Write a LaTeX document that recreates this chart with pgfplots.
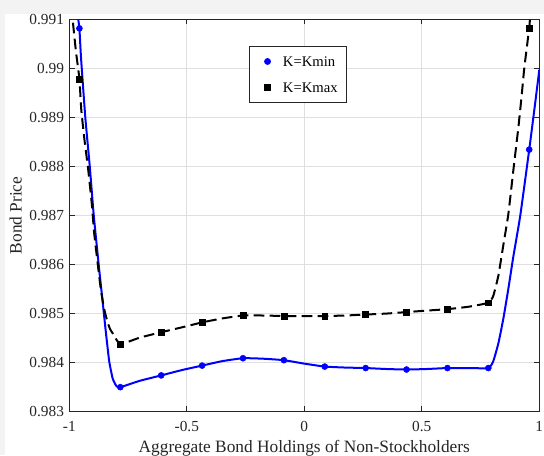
\documentclass[border=0pt]{standalone}
\usepackage{fontspec}
\setmainfont{Liberation Serif}
\usepackage{pgfplots}
\pgfplotsset{compat=1.18}
\definecolor{axgray}{RGB}{38,38,38}
\definecolor{gridgray}{RGB}{223,223,223}
\definecolor{bgstrip}{RGB}{243,243,243}
\definecolor{mblue}{RGB}{0,0,255}

\begin{document}
\fontsize{11.5}{13.8}\selectfont
\begin{tikzpicture}
\fill[bgstrip] (-51.98pt,-32.48pt) rectangle (356pt,308.78pt);
\fill[white] (-48.23pt,-32.48pt) rectangle (356pt,298.28pt);
\useasboundingbox (-51.98pt,-32.48pt) rectangle (356pt,308.78pt);
\begin{axis}[
  at={(0,0)}, anchor=south west,
  scale only axis, width=352.5pt, height=294.5pt,
  xmin=-1, xmax=1, ymin=0.983, ymax=0.991,
  xtick={-1,-0.5,0,0.5,1},
  ytick={0.983,0.984,0.985,0.986,0.987,0.988,0.989,0.990,0.991},
  /pgf/number format/assume math mode=true,
  yticklabel style={/pgf/number format/precision=3},
  xticklabel style={yshift=-3.5pt},
  tick label style={text=axgray, font=\fontsize{11.5}{13.8}\selectfont},
  axis line style={axgray, line width=0.6pt},
  tick style={axgray, line width=0.6pt},
  major tick length=4pt,
  tick align=inside,
  xtick pos=both, ytick pos=both,
  grid=major,
  major grid style={gridgray, line width=0.6pt},
  xlabel={Aggregate Bond Holdings of Non-Stockholders},
  ylabel={Bond Price},
  label style={font=\fontsize{13}{15.6}\selectfont, text=axgray},
  x label style={at={(axis description cs:0.5,-0.1026)}, anchor=base},
  y label style={at={(axis description cs:-0.1013,0.5)}, anchor=base},
  legend style={at={(0.3823,0.9313)}, anchor=north west, draw=axgray,
    line width=0.6pt, fill=white, inner xsep=6.75pt, inner ysep=7pt,
    row sep=10.75pt, text=black,
    font=\fontsize{11}{13.2}\selectfont,
    nodes={inner sep=0pt, text height=7.3pt, text depth=0pt}},
  legend cell align=left,
  legend image code/.code={%
    \path (-6.55pt,-4pt) (11.25pt,4pt);
    \draw[#1] plot coordinates {(0pt,0pt)};},
]
% K = Kmin, interpolated price curve
\addplot[mblue, line width=1.5pt, smooth, tension=0.3, forget plot] coordinates {
  (-0.967,0.99150) (-0.962,0.99100) (-0.957,0.99081) (-0.950,0.99020)
  (-0.932,0.98900) (-0.913,0.98800) (-0.896,0.98700) (-0.874,0.98595)
  (-0.859,0.98528) (-0.844,0.98460) (-0.830,0.98402) (-0.815,0.98367)
  (-0.799,0.98352) (-0.783,0.98350) (-0.700,0.98363) (-0.609,0.98374)
  (-0.520,0.98385) (-0.435,0.98394) (-0.350,0.98403) (-0.261,0.98409)
  (-0.174,0.98408) (-0.087,0.98405) (0.000,0.98398) (0.087,0.98392)
  (0.174,0.98390) (0.261,0.98389) (0.350,0.98387) (0.435,0.98386)
  (0.520,0.98387) (0.609,0.98389) (0.700,0.98389) (0.783,0.98389)
  (0.804,0.98403) (0.826,0.98440) (0.847,0.98490) (0.868,0.98550)
  (0.889,0.98615) (0.919,0.98700) (0.957,0.98834) (0.980,0.98920)
  (1.000,0.98997)
};
% K = Kmax, interpolated price curve
\addplot[black, line width=1.5pt, dash pattern=on 8pt off 4pt, smooth, tension=0.3, forget plot] coordinates {
  (-0.990,0.99125) (-0.986,0.99100) (-0.972,0.99035) (-0.957,0.98978)
  (-0.949,0.98915) (-0.935,0.98852) (-0.920,0.98795) (-0.904,0.98722)
  (-0.894,0.98663) (-0.880,0.98605) (-0.866,0.98550) (-0.852,0.98510)
  (-0.837,0.98482) (-0.826,0.98468) (-0.813,0.98458) (-0.783,0.98438)
  (-0.700,0.98451) (-0.609,0.98462) (-0.520,0.98472) (-0.435,0.98482)
  (-0.350,0.98490) (-0.261,0.98496) (-0.174,0.98496) (-0.087,0.98495)
  (0.000,0.98495) (0.087,0.98495) (0.174,0.98496) (0.261,0.98498)
  (0.350,0.98500) (0.435,0.98503) (0.520,0.98506) (0.609,0.98509)
  (0.700,0.98514) (0.783,0.98522) (0.804,0.98536) (0.826,0.98578)
  (0.847,0.98640) (0.868,0.98702) (0.889,0.98790) (0.911,0.98880)
  (0.925,0.98945) (0.936,0.99000) (0.957,0.99082) (0.960,0.99100)
  (0.966,0.99130)
};
% grid-point values
\addplot[only marks, mark=*, mark size=2.25pt, mblue] coordinates {
  (-0.957,0.99081) (-0.783,0.98350) (-0.609,0.98374) (-0.435,0.98394)
  (-0.261,0.98409) (-0.087,0.98405) (0.087,0.98392) (0.261,0.98389)
  (0.435,0.98386) (0.609,0.98389) (0.783,0.98389) (0.957,0.98834)
};
\addlegendentry{K=Kmin}
\addplot[only marks, mark=square*, mark size=2.2pt, black] coordinates {
  (-0.957,0.98978) (-0.783,0.98438) (-0.609,0.98462) (-0.435,0.98482)
  (-0.261,0.98496) (-0.087,0.98495) (0.087,0.98495) (0.261,0.98498)
  (0.435,0.98503) (0.609,0.98509) (0.783,0.98522) (0.957,0.99082)
};
\addlegendentry{K=Kmax}
\end{axis}
\end{tikzpicture}
\end{document}
